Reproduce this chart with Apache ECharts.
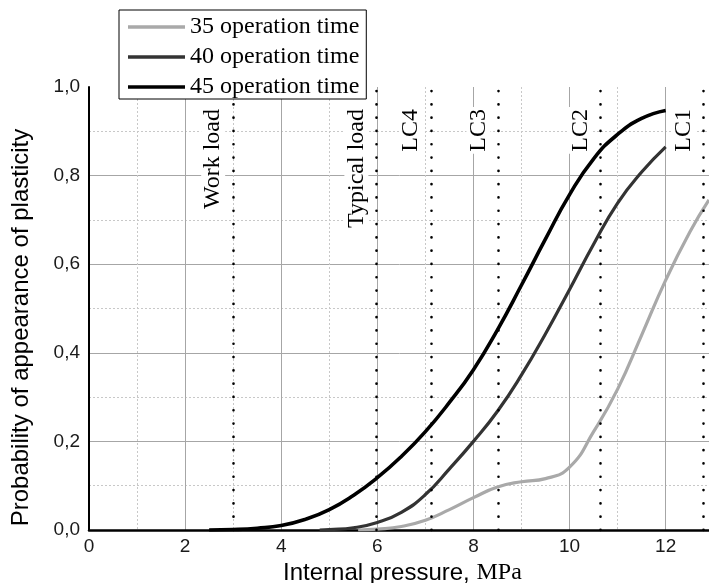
<!DOCTYPE html>
<html>
<head>
<meta charset="utf-8">
<script src="https://cdn.jsdelivr.net/npm/echarts@6/dist/echarts.min.js"></script>
<style>
html,body{margin:0;padding:0;background:#fff;}
#chart{width:709px;height:583px;}
</style>
</head>
<body>
<div id="chart"></div>
<script>
// ---- data ----
const seriesNames = ['35 operation time', '40 operation time', '45 operation time'];

const x35 = [5.6, 6.0, 6.5, 7.0, 7.5, 8.0, 8.5, 9.0, 9.5, 10.0, 10.5, 11.0, 11.5, 12.0, 12.5, 12.9];
const y35 = [0, 0.002, 0.008, 0.022, 0.046, 0.073, 0.097, 0.109, 0.116, 0.142, 0.222, 0.318, 0.440, 0.564, 0.672, 0.745];

const x40 = [4.8, 5.0, 5.5, 6.0, 6.5, 7.0, 7.5, 8.0, 8.5, 9.0, 9.5, 10.0, 10.5, 11.0, 11.5, 12.0];
const y40 = [0, 0.001, 0.005, 0.017, 0.040, 0.080, 0.138, 0.200, 0.268, 0.350, 0.443, 0.543, 0.645, 0.738, 0.808, 0.865];

const x45 = [2.5, 3.0, 3.5, 4.0, 4.5, 5.0, 5.5, 6.0, 6.5, 7.0, 7.5, 8.0, 8.5, 9.0, 9.5, 10.0, 10.5, 11.0, 11.5, 12.0];
const y45 = [0, 0.001, 0.004, 0.010, 0.024, 0.046, 0.078, 0.118, 0.166, 0.222, 0.288, 0.362, 0.452, 0.553, 0.657, 0.757, 0.838, 0.893, 0.929, 0.947];

const loadNames = ['Work load', 'Typical load', 'LC4', 'LC3', 'LC2', 'LC1'];
const loadValues = [3.0, 5.98, 7.12, 8.52, 10.64, 12.79];

const xTicks = [0, 2, 4, 6, 8, 10, 12];
const yTickLabels = ['0,0', '0,2', '0,4', '0,6', '0,8', '1,0'];

// ---- build ----
function zip(xs, ys) { return xs.map((x, i) => [x, ys[i]]); }

const SANS = 'Liberation Sans, Arial, sans-serif';
const SERIF = 'Liberation Serif, Times New Roman, serif';
const GRID = '#a6a6a6';

const chart = echarts.init(document.getElementById('chart'), null, { renderer: 'canvas' });

const markLineData = loadNames.map((n, i) => ({ name: n, xAxis: loadValues[i] }));

function curve(name, xs, ys, color, width) {
  return {
    name: name, type: 'line', data: zip(xs, ys),
    smooth: 0.5, symbol: 'none', showSymbol: false,
    lineStyle: { color: color, width: width }, itemStyle: { color: color }, z: 3
  };
}

const option = {
  animation: false,
  backgroundColor: '#fff',
  grid: {
    left: 89, right: -52.8, top: 87, bottom: 53,
    containLabel: false, outerBoundsMode: 'none'
  },
  legend: {
    orient: 'vertical',
    left: 119, top: 10,
    padding: [5, 7, 0, 9],
    icon: 'rect',
    itemWidth: 57, itemHeight: 3.5, itemGap: 6,
    backgroundColor: '#fff',
    borderColor: '#000', borderWidth: 1,
    z: 10,
    textStyle: { fontFamily: SERIF, fontSize: 24, color: '#000', lineHeight: 24, height: 24 },
    data: seriesNames
  },
  xAxis: {
    type: 'value',
    min: 0, max: 14, interval: 2,
    name: '{a|Internal pressure, }{b|MPa}',
    nameLocation: 'middle',
    nameGap: 28,
    nameTextStyle: {
      padding: [0, 46, 0, 0],
      rich: {
        a: { fontFamily: SANS, fontSize: 24, color: '#000' },
        b: { fontFamily: SERIF, fontSize: 24, color: '#000' }
      }
    },
    axisLine: { show: true, onZero: false, lineStyle: { color: '#000', width: 2.5 } },
    axisTick: { show: false },
    axisLabel: {
      margin: 7, fontFamily: SANS, fontSize: 19, color: '#1a1a1a',
      formatter: v => (xTicks.indexOf(v) >= 0 ? String(v) : '')
    },
    splitLine: { show: true, lineStyle: { color: GRID, width: 1 } },
    minorTick: { show: false, splitNumber: 2 },
    minorSplitLine: { show: true, lineStyle: { color: '#c8c8c8', width: 1, type: [2, 2] } }
  },
  yAxis: {
    type: 'value',
    min: 0, max: 1, interval: 0.2,
    name: 'Probability of appearance of plasticity',
    nameLocation: 'middle',
    nameGap: 56,
    nameTextStyle: { fontFamily: SANS, fontSize: 24, color: '#000', padding: [0, 38, 0, 0] },
    axisLine: { show: true, lineStyle: { color: '#000', width: 2 } },
    axisTick: { show: false },
    axisLabel: {
      margin: 9, fontFamily: SANS, fontSize: 19, color: '#1a1a1a',
      formatter: v => yTickLabels[Math.round(v / 0.2)]
    },
    splitLine: { show: true, lineStyle: { color: [GRID, GRID, GRID, GRID, GRID, 'rgba(0,0,0,0)'], width: 1 } },
    minorTick: { show: false, splitNumber: 2 },
    minorSplitLine: { show: true, lineStyle: { color: '#c8c8c8', width: 1, type: [2, 2] } }
  },
  series: [
    curve(seriesNames[0], x35, y35, '#a9a9a9', 3.2),
    curve(seriesNames[1], x40, y40, '#333333', 3.2),
    curve(seriesNames[2], x45, y45, '#000000', 3.6),
    {
      name: 'loads', type: 'line', data: [],
      z: 2,
      markLine: {
        silent: true,
        symbol: ['none', 'none'],
        lineStyle: { color: '#000', width: 2.6, type: [0.1, 13.2], cap: 'round' },
        label: {
          show: true,
          position: 'insideEndTop',
          distance: [20, 8],
          formatter: '{b}',
          fontFamily: SERIF, fontSize: 24, color: '#000',
          backgroundColor: '#fff', padding: [0, 2]
        },
        emphasis: { disabled: true },
        data: markLineData
      }
    }
  ]
};

chart.setOption(option);
</script>
</body>
</html>
